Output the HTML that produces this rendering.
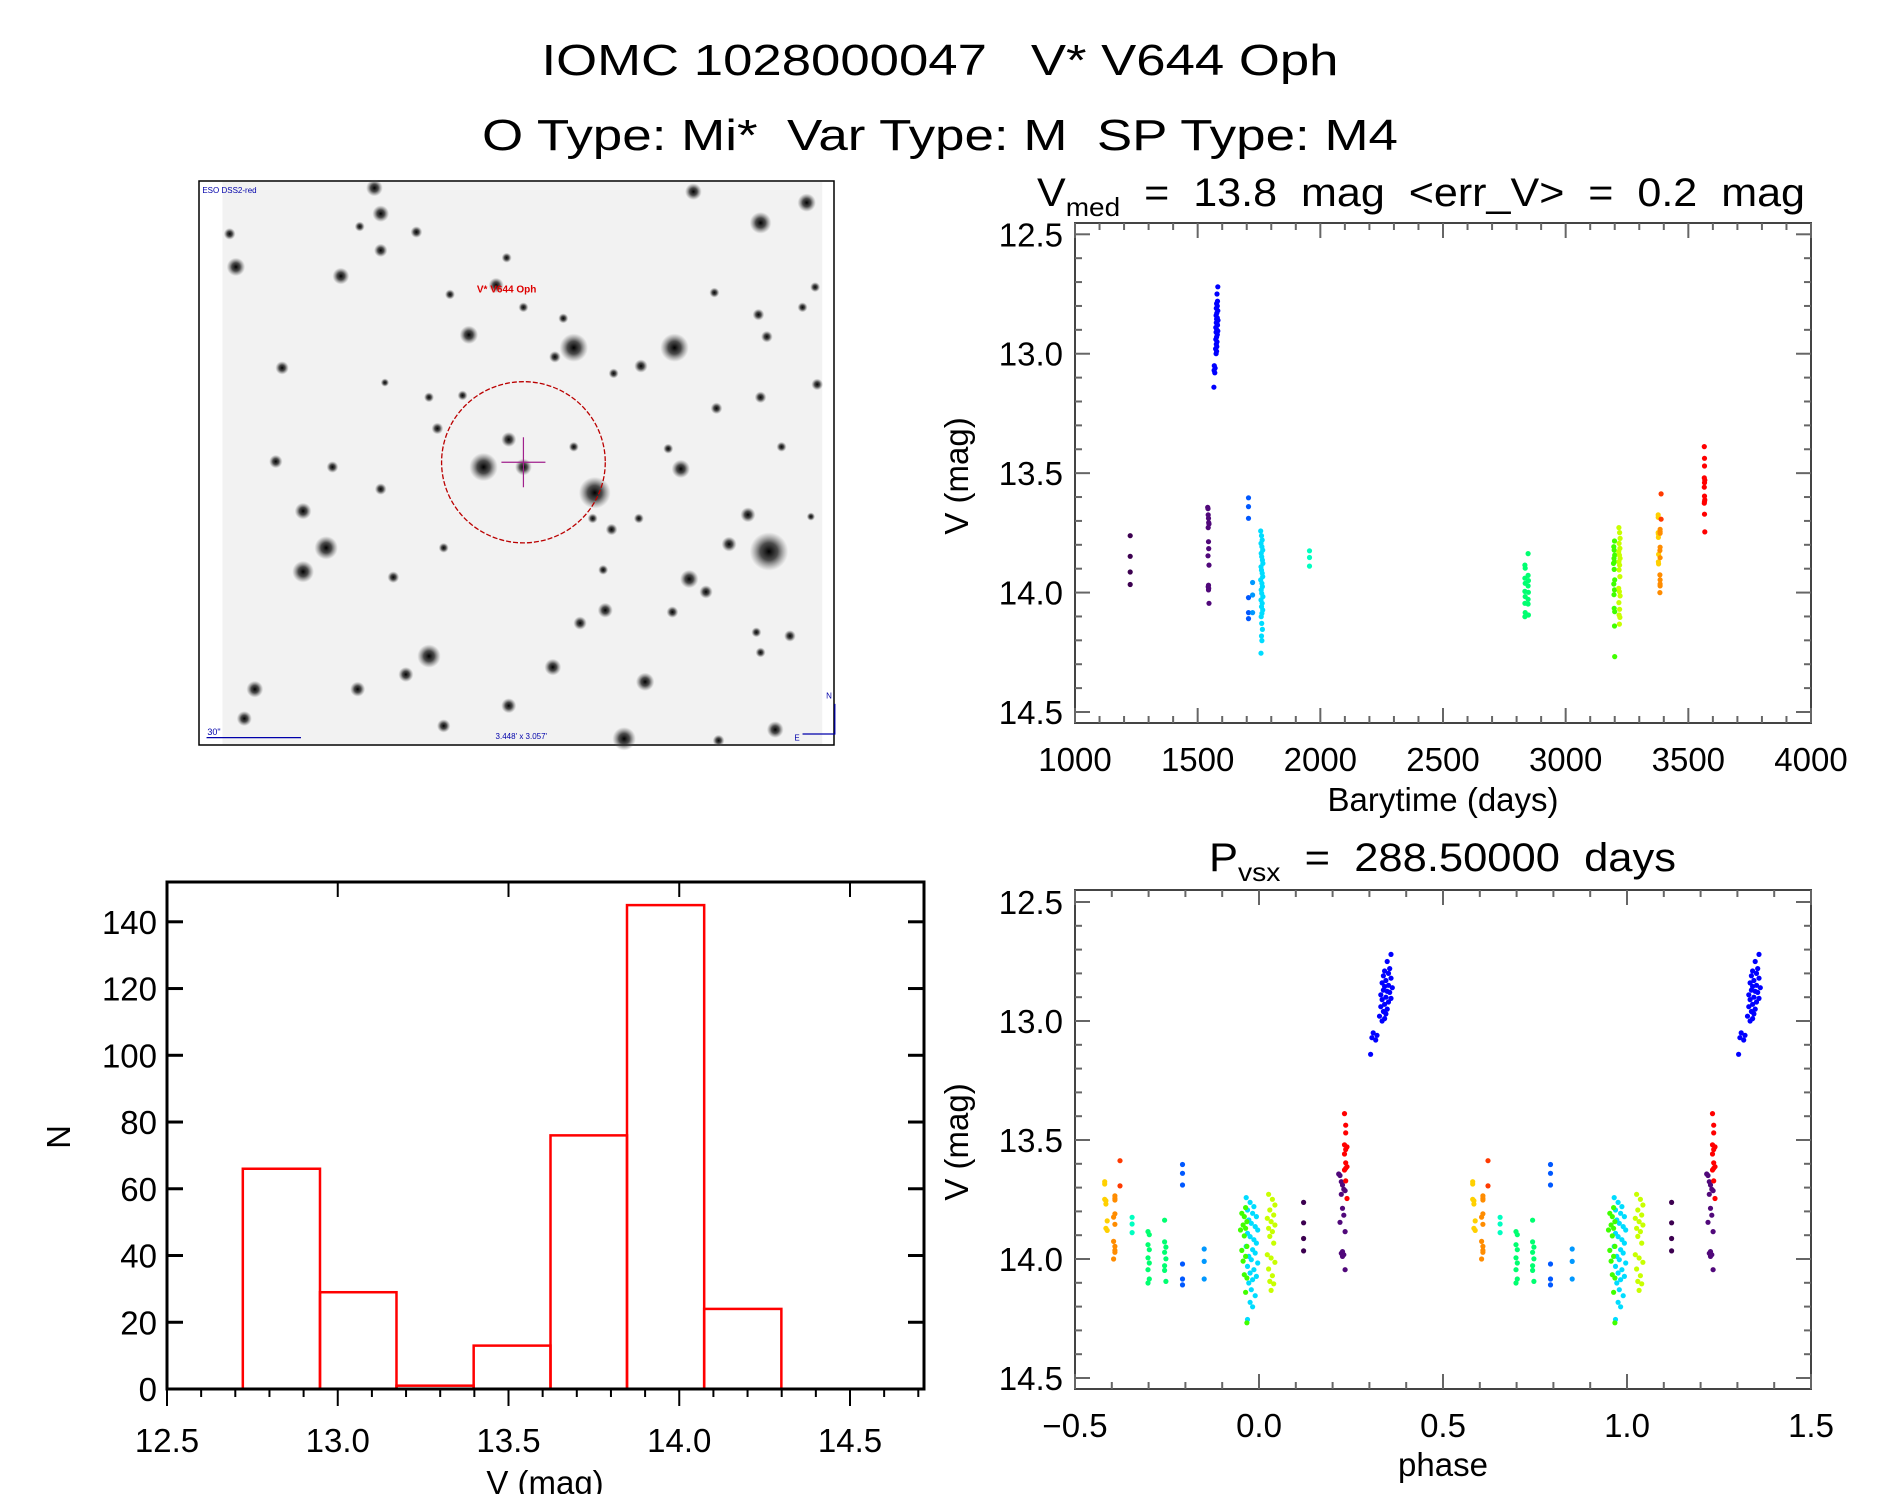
<!DOCTYPE html>
<html><head><meta charset="utf-8"><style>
html,body{margin:0;padding:0;background:#fff;}
svg{display:block;font-family:"Liberation Sans",sans-serif;}
</style></head><body>
<svg id="fig" width="1889" height="1494" viewBox="0 0 1889 1494" xmlns="http://www.w3.org/2000/svg">
<defs>
<radialGradient id="starg"><stop offset="0" stop-color="#000" stop-opacity="1"/><stop offset="0.45" stop-color="#222" stop-opacity="0.8"/><stop offset="1" stop-color="#666" stop-opacity="0"/></radialGradient>
</defs>
<text x="940" y="75" font-size="44" text-anchor="middle" textLength="797" lengthAdjust="spacingAndGlyphs" xml:space="preserve">IOMC 1028000047   V* V644 Oph</text>
<text x="940" y="150" font-size="44" text-anchor="middle" textLength="916" lengthAdjust="spacingAndGlyphs" xml:space="preserve">O Type: Mi*  Var Type: M  SP Type: M4</text>

<g id="skyimg"></g>
<g id="lc"></g>
<g id="ph"></g>
<g id="hist"></g>
</svg>
<script>
// ---------------- DATA ----------------
const period = 288.5;
const epoch = 1478.5;
const groupColors = ["#3c0050","#50087a","#0000ff","#0058ff","#0098ff","#00dcff","#00ffc0","#00ff70","#40ff00","#c8ff00","#ffd000","#ff8c00","#ff3a00","#ff0000"];
const groupTimes = [
 [1225,1225,1225,1225],
 [1541,1542,1543,1544,1545,1546,1543,1544,1545,1542,1546,1544,1543,1545,1544,1546],
 [1582,1579,1581,1577,1580,1576,1582,1578,1575,1580,1577,1583,1576,1579,1581,1574,1578,1582,1575,1580,1577,1574,1579,1576,1578,1573,1577,1575,1568,1571,1567,1570,1566],
 [1707,1707,1707,1707,1707,1707],
 [1724,1724,1724],
 [1757,1760,1763,1758,1762,1765,1759,1761,1764,1766,1758,1760,1763,1765,1757,1762,1764,1759,1761,1766,1758,1763,1760,1765,1762,1759,1761,1764,1760,1762,1758],
 [1956,1956,1956],
 [2847,2834,2835,2847,2834,2848,2835,2847,2834,2848,2835,2847,2834,2847,2835,2848,2834],
 [3199,3196,3198,3200,3197,3199,3195,3198,3200,3196,3199,3197,3198,3200,3199,3200],
 [3217,3220,3222,3218,3221,3216,3219,3222,3217,3220,3218,3221,3216,3219,3222,3217,3220,3218,3221,3219],
 [3377,3377,3377,3378,3378,3379,3378,3379],
 [3385,3385,3385,3385,3384,3385,3384,3385,3385,3385,3384],
 [3389,3389],
 [3565,3566,3566,3565,3567,3566,3565,3566,3567,3566,3565,3566,3567]
];
const groupMags = [
 [13.762,13.848,13.914,13.966],
 [13.643,13.649,13.675,13.689,13.707,13.713,13.728,13.787,13.816,13.846,13.885,13.969,13.976,13.982,13.989,14.045],
 [12.72,12.75,12.78,12.79,12.80,12.81,12.82,12.83,12.84,12.85,12.855,12.86,12.87,12.875,12.88,12.89,12.90,12.905,12.91,12.92,12.93,12.94,12.95,12.96,12.97,12.98,12.99,13.00,13.05,13.06,13.07,13.08,13.14],
 [13.603,13.640,13.689,14.021,14.084,14.109],
 [13.958,14.010,14.084],
 [13.742,13.762,13.780,13.794,13.808,13.822,13.836,13.850,13.864,13.878,13.892,13.906,13.919,13.933,13.947,13.961,13.975,13.989,14.003,14.017,14.031,14.045,14.059,14.073,14.087,14.101,14.129,14.154,14.182,14.201,14.254],
 [13.825,13.853,13.889],
 [13.837,13.885,13.898,13.928,13.940,13.950,13.961,13.972,13.995,13.999,14.017,14.028,14.045,14.048,14.084,14.094,14.101],
 [13.784,13.808,13.822,13.843,13.857,13.871,13.878,13.903,13.947,13.964,13.989,14.009,14.066,14.080,14.140,14.268],
 [13.728,13.749,13.773,13.794,13.815,13.829,13.843,13.857,13.871,13.885,13.905,13.933,13.982,13.996,14.014,14.042,14.070,14.094,14.104,14.132],
 [13.675,13.685,13.749,13.755,13.769,13.840,13.871,13.880],
 [13.735,13.745,13.752,13.810,13.824,13.854,13.926,13.947,13.964,13.972,14.000],
 [13.587,13.693],
 [13.389,13.438,13.470,13.520,13.529,13.540,13.559,13.596,13.612,13.619,13.626,13.672,13.746]
];
const histEdges = [12.722,12.948,13.172,13.398,13.623,13.847,14.073,14.299];
const histCounts = [66,29,1,13,76,145,24];
const lcXTicks = [1000,1500,2000,2500,3000,3500,4000];
const magTicks = [12.5,13.0,13.5,14.0,14.5];
const phaseTicks = [-0.5,0.0,0.5,1.0,1.5];
const histXTicks = [12.5,13.0,13.5,14.0,14.5];
const histYTicks = [0,20,40,60,80,100,120,140];

// ---------------- HELPERS ----------------
const NS = "http://www.w3.org/2000/svg";
function mk(tag, attrs, parent){ const e=document.createElementNS(NS,tag); for(const k in attrs) e.setAttribute(k,attrs[k]); parent.appendChild(e); return e; }
function lin(d0,d1,r0,r1){ return v => r0 + (v-d0)*(r1-r0)/(d1-d0); }
function txt(parent, s, x, y, size, anchor, name){
  const t = mk('text',{x:x,y:y,'font-size':size,'text-anchor':anchor||'middle'},parent);
  t.textContent = s;
  
  
  return t;
}
function fmt1(v){ return v.toFixed(1).replace('-', '\u2212'); }

function scatterAxes(g, L, R, T, B, xs, ys, xTicks, xMinor, xFmt, yMinor){
  const tc = "#666";
  const box = mk('rect',{x:L,y:T,width:R-L,height:B-T,fill:'none',stroke:'#444','stroke-width':2},g);
  
  
  const x0 = xTicks[0], x1 = xTicks[xTicks.length-1];
  const step = (xTicks[1]-xTicks[0])/xMinor;
  for(let i=0;i<=Math.round((x1-x0)/step);i++){
    const v = x0 + i*step; const px = xs(v);
    const major = (i % xMinor)===0; const len = major?15:7;
    mk('line',{x1:px,y1:B,x2:px,y2:B-len,stroke:tc,'stroke-width':2},g);
    mk('line',{x1:px,y1:T,x2:px,y2:T+len,stroke:tc,'stroke-width':2},g);
  }
  xTicks.forEach(v=>{ txt(g, xFmt(v), xs(v), B+48, 33, 'middle', 'x-tick-label'); });
  for(let i=0;i<=20;i++){
    const v = 12.5 + i*0.1; const py = ys(v);
    const major = (i % 5)===0; const len = major?15:7;
    mk('line',{x1:L,y1:py,x2:L+len,y2:py,stroke:tc,'stroke-width':2},g);
    mk('line',{x1:R,y1:py,x2:R-len,y2:py,stroke:tc,'stroke-width':2},g);
  }
  magTicks.forEach(v=>{ txt(g, v.toFixed(1), L-12, ys(v)+12, 33, 'end', 'y-tick-label'); });
}
function dot(g, x, y, c){
  const d = mk('circle',{cx:x.toFixed(1),cy:y.toFixed(1),r:2.6,fill:c},g);
  
  
}

// ---------------- LIGHT CURVE ----------------
(function(){
  const g = document.getElementById('lc');
  const L=1075,R=1811,T=223,B=723;
  const xs = lin(1000,4000,1075,1811);
  const ys = lin(12.5,14.5,234.3,712);
  scatterAxes(g,L,R,T,B,xs,ys,lcXTicks,5,v=>String(v),5);
  groupTimes.forEach((ts,gi)=>{ ts.forEach((t,i)=>{ dot(g, xs(t), ys(groupMags[gi][i]), groupColors[gi]); }); });
  const tt = txt(g,'',1037,206,40,'start','light-curve-title');
  tt.innerHTML = 'V<tspan font-size="26" dy="10">med</tspan><tspan dy="-10" xml:space="preserve">  =  13.8  mag  &lt;err_V&gt;  =  0.2  mag</tspan>';
  tt.setAttribute('textLength','768');
  tt.setAttribute('lengthAdjust','spacingAndGlyphs');
  txt(g,'Barytime (days)',1443,811,33,'middle','x-axis-title');
  const yt = txt(g,'V (mag)',0,0,33,'middle','y-axis-title');
  yt.setAttribute('transform','translate(968,476) rotate(-90)');
})();

// ---------------- PHASE PLOT ----------------
(function(){
  const g = document.getElementById('ph');
  const L=1075,R=1811,T=890,B=1389;
  const xs = lin(-0.5,1.5,1075,1811);
  const ys = lin(12.5,14.5,902,1378);
  scatterAxes(g,L,R,T,B,xs,ys,phaseTicks,5,fmt1,5);
  groupTimes.forEach((ts,gi)=>{ ts.forEach((t,i)=>{
    let p = ((t-epoch)/period) % 1; if(p<0) p+=1;
    [p-1,p,p+1].forEach(q=>{ if(q>=-0.5 && q<=1.5) dot(g, xs(q), ys(groupMags[gi][i]), groupColors[gi]); });
  }); });
  const tt = txt(g,'',1209,871,40,'start','phase-plot-title');
  tt.innerHTML = 'P<tspan font-size="26" dy="10">vsx</tspan><tspan dy="-10" xml:space="preserve">  =  288.50000  days</tspan>';
  tt.setAttribute('textLength','467');
  tt.setAttribute('lengthAdjust','spacingAndGlyphs');
  txt(g,'phase',1443,1476,33,'middle','x-axis-title');
  const yt = txt(g,'V (mag)',0,0,33,'middle','y-axis-title');
  yt.setAttribute('transform','translate(968,1142) rotate(-90)');
})();

// ---------------- HISTOGRAM ----------------
(function(){
  const g = document.getElementById('hist');
  const L=167,R=924,T=882,B=1389;
  const xs = lin(12.5,14.5,167,850);
  const ys = lin(0,140,1389,921.8);
  histCounts.forEach((c,i)=>{
    const x0 = xs(histEdges[i]), x1 = xs(histEdges[i+1]);
    const b = mk('rect',{x:x0,y:ys(c),width:x1-x0,height:B-ys(c),fill:'none',stroke:'#f00','stroke-width':2.5},g);
    
    
  });
  const ax = mk('path',{d:`M${L},${B} L${L},${T} L${R},${T} L${R},${B} Z`,fill:'none',stroke:'#000','stroke-width':3},g);
  
  
  for(let i=0;i<=22;i++){
    const v = 12.5 + i*0.1; const px = xs(v); if(px>R) break;
    const major = (i%5)===0;
    mk('line',{x1:px,y1:B,x2:px,y2:B+(major?17:8),stroke:'#000','stroke-width':2},g);
    if(major) mk('line',{x1:px,y1:T,x2:px,y2:T+15,stroke:'#000','stroke-width':2},g);
  }
  histXTicks.forEach(v=>txt(g,v.toFixed(1),xs(v),1452,33,'middle','x-tick-label'));
  histYTicks.forEach(v=>{
    const py = ys(v);
    mk('line',{x1:L,y1:py,x2:L+16,y2:py,stroke:'#000','stroke-width':3},g);
    mk('line',{x1:R,y1:py,x2:R-16,y2:py,stroke:'#000','stroke-width':3},g);
    txt(g,String(v),157,py+12,33,'end','y-tick-label');
  });
  txt(g,'V (mag)',545,1494,33,'middle','x-axis-title');
  const yt = txt(g,'N',0,0,33,'middle','y-axis-title');
  yt.setAttribute('transform','translate(70,1137) rotate(-90)');
})();

// ---------------- FINDER IMAGE ----------------
const stars = [[905,470,34],[1145,470,34],[1370,1025,46],[955,865,38],[690,795,34],[1350,130,26],[1460,75,22],[1190,45,20],[430,35,20],[100,250,22],[350,275,20],[445,105,20],[655,435,22],[560,1310,28],[315,1015,28],[260,1080,26],[260,915,20],[1180,1100,22],[1220,1135,16],[1160,800,22],[1320,925,18],[1275,1005,18],[1025,1535,28],[1075,1380,22],[855,1340,20],[980,1185,18],[920,1220,16],[750,1445,18],[1385,1510,20],[145,1400,20],[120,1480,18],[505,1360,18],[390,1400,18],[595,1500,16],[785,795,20],[750,720,18],[1065,520,16],[1485,570,14],[1245,635,14],[1350,605,14],[1365,440,14],[1345,380,14],[445,205,16],[210,525,16],[195,780,16],[330,795,14],[445,855,14],[1420,1255,14],[1340,1245,12],[475,1095,14],[595,1015,12],[860,495,14],[995,965,14],[950,935,12],[1130,745,12],[1000,540,12],[880,390,12],[785,360,12],[610,325,12],[720,300,18],[530,155,14],[395,140,12],[85,160,14],[1240,320,12],[1450,360,12],[1480,305,12],[1400,740,12],[1060,935,12],[1470,930,10],[1140,1190,14],[975,1075,12],[1350,1300,12],[905,740,12],[580,690,14],[745,225,12],[640,600,12],[560,605,12],[455,565,10],[1250,1540,14]];
(function(){
  const g = document.getElementById('skyimg');
  const FL=199,FT=181,FR=834,FB=745;
  const fx = z => FL + (z-12)/(1525-12)*(FR-FL);
  const fy = z => FT + (z-16)/(1552-16)*(FB-FT);
  const frame = mk('rect',{x:FL,y:FT,width:FR-FL,height:FB-FT,fill:'#fff',stroke:'#000','stroke-width':1.5},g);
  
  
  const bg = mk('rect',{x:fx(68),y:FT+1,width:fx(1497)-fx(68),height:FB-FT-2,fill:'#f2f2f2'},g);
  
  
  stars.forEach(s=>{
    const c = mk('circle',{cx:fx(s[0]),cy:fy(s[1]),r:s[2]*0.42,fill:'url(#starg)'},g);
    
    
  });
  const cx = fx(785), cy = fy(782);
  const circ = mk('ellipse',{cx:cx,cy:cy,rx:(fx(980)-fx(590))/2,ry:(fy(1002)-fy(563))/2,fill:'none',stroke:'#b00','stroke-width':1.3,'stroke-dasharray':'5,2'},g);
  
  
  mk('line',{x1:cx-22,y1:cy,x2:cx+22,y2:cy,stroke:'#a0208c','stroke-width':1.2},g);
  mk('line',{x1:cx,y1:cy-25,x2:cx,y2:cy+25,stroke:'#a0208c','stroke-width':1.2},g);
  const lab = txt(g,'V* V644 Oph',fx(745),fy(320),10,'middle','target-label');
  lab.setAttribute('fill','#d00'); lab.setAttribute('font-weight','bold');
  const s1 = txt(g,'ESO DSS2-red',fx(20),fy(48),8,'start','survey-label'); s1.setAttribute('fill','#00a');
  const s2 = txt(g,'30"',fx(32),fy(1525),9,'start','scale-label'); s2.setAttribute('fill','#00a');
  mk('line',{x1:fx(30),y1:fy(1532),x2:fx(255),y2:fy(1532),stroke:'#00a','stroke-width':1.2},g);
  const s3 = txt(g,"3.448' x 3.057'",fx(780),fy(1535),8,'middle','field-size-label'); s3.setAttribute('fill','#00a');
  mk('polyline',{points:`${fx(1450)},${fy(1522)} ${fx(1527)},${fy(1522)} ${fx(1527)},${fy(1440)}`,fill:'none',stroke:'#00a','stroke-width':1.2},g);
  const n = txt(g,'N',fx(1513),fy(1425),8,'middle','north-label'); n.setAttribute('fill','#00a');
  const e = txt(g,'E',fx(1437),fy(1540),8,'middle','east-label'); e.setAttribute('fill','#00a');
})();
</script>
</body></html>
